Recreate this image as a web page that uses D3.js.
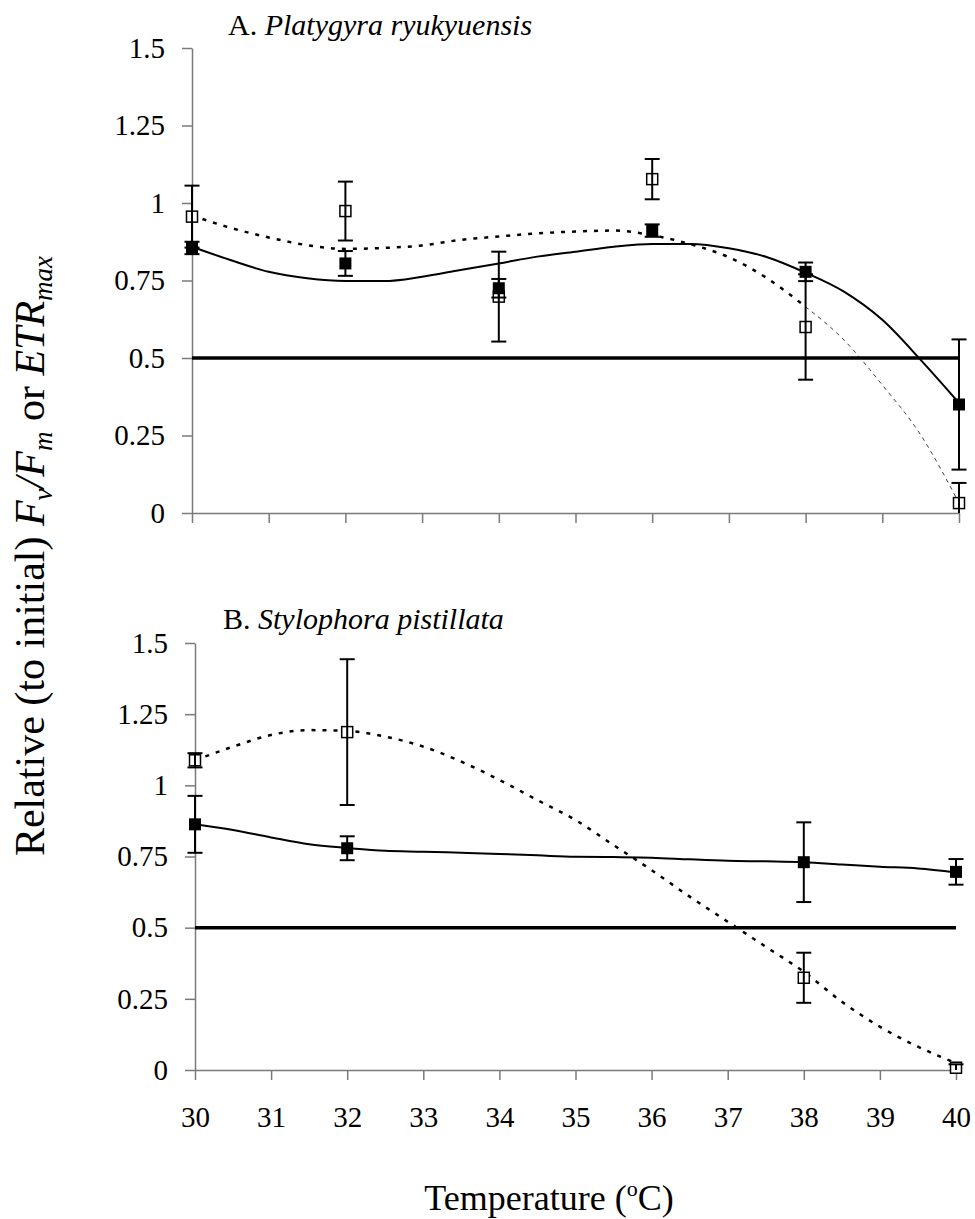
<!DOCTYPE html>
<html>
<head>
<meta charset="utf-8">
<script src="https://cdn.jsdelivr.net/npm/d3@7"></script>
<style>
	body { margin: 0; background: #ffffff; }
	svg { display: block; }
	.axis path, .axis line { stroke: #7a7a7a; stroke-width: 1.5px; }
</style>
</head>
<body>
<svg id="chart" width="975" height="1219"></svg>
<script>
// Panel A - Platygyra ryukyuensis
var tempsA = [30, 32, 34, 36, 38, 40];
var filledA = [0.855, 0.805, 0.725, 0.911, 0.778, 0.35];
var filledAErr = [0.02, 0.04, 0.03, 0.02, 0.03, 0.21];
var openA = [0.956, 0.974, 0.698, 1.077, 0.6, 0.032];
var openAErr = [0.1, 0.095, 0.145, 0.065, 0.17, 0.065];

// Panel B - Stylophora pistillata
var tempsB = [30, 32, 38, 40];
var filledB = [0.863, 0.779, 0.73, 0.696];
var filledBErr = [0.1, 0.042, 0.14, 0.045];
var openB = [1.088, 1.187, 0.324, 0.008];
var openBErr = [0.025, 0.256, 0.088, 0.012];

// trendlines, every half degree
var trendTemps = [30, 30.5, 31, 31.5, 32, 32.5, 33, 33.5, 34, 34.5, 35, 35.5, 36, 36.5, 37, 37.5, 38, 38.5, 39, 39.5, 40];
var solidTrendA = [0.859, 0.816, 0.778, 0.757, 0.748, 0.748, 0.762, 0.784, 0.805, 0.827, 0.843, 0.859, 0.868, 0.868, 0.854, 0.825, 0.775, 0.714, 0.623, 0.494, 0.355];
var dottedTrendA = [0.96, 0.92, 0.889, 0.864, 0.852, 0.855, 0.863, 0.881, 0.892, 0.902, 0.908, 0.911, 0.896, 0.867, 0.825, 0.757, 0.665, 0.558, 0.413, 0.252, 0.032];
var solidTrendB = [0.863, 0.843, 0.817, 0.793, 0.78, 0.77, 0.767, 0.763, 0.759, 0.754, 0.749, 0.748, 0.746, 0.74, 0.735, 0.733, 0.73, 0.722, 0.714, 0.708, 0.694];
var dottedTrendB = [1.088, 1.136, 1.177, 1.194, 1.191, 1.171, 1.136, 1.083, 1.019, 0.948, 0.878, 0.79, 0.702, 0.609, 0.521, 0.433, 0.345, 0.24, 0.152, 0.082, 0.024];

var yTicks = [0, 0.25, 0.5, 0.75, 1, 1.25, 1.5];
var xTicks = [30, 31, 32, 33, 34, 35, 36, 37, 38, 39, 40];
var halfLine = 0.5;

var serif = "'Liberation Serif', 'Times New Roman', serif";
var svg = d3.select("#chart");

var panels = [
	{ temps: tempsA, filled: filledA, filledErr: filledAErr, open: openA, openErr: openAErr,
		solid: solidTrendA, dotted: dottedTrendA, thinFrom: 38, x0: 192, x1: 959, y0: 513, y1: 48,
		letter: "A. ", name: "Platygyra ryukyuensis", titleX: 228, titleY: 35, labels: false },
	{ temps: tempsB, filled: filledB, filledErr: filledBErr, open: openB, openErr: openBErr,
		solid: solidTrendB, dotted: dottedTrendB, thinFrom: null, x0: 195, x1: 956, y0: 1070, y1: 643,
		letter: "B. ", name: "Stylophora pistillata", titleX: 223, titleY: 629, labels: true }
];

panels.forEach(function(p) {
	var x = d3.scaleLinear().domain([30, 40]).range([p.x0, p.x1]);
	var y = d3.scaleLinear().domain([0, 1.5]).range([p.y0, p.y1]);
	var g = svg.append("g");

	// axes
	var yAxisG = g.append("g")
		.attr("class", "axis")
		.attr("transform", "translate(" + p.x0 + ",0)")
		.call(d3.axisLeft(y).tickValues(yTicks).tickFormat(function(d) { return String(d); })
			.tickSize(10).tickSizeOuter(0).tickPadding(17));
	yAxisG.attr("font-family", serif).attr("font-size", 29);
	yAxisG.selectAll("text").attr("fill", "#000");

	var xAxis = d3.axisBottom(x).tickValues(xTicks).tickSize(10).tickSizeOuter(0).tickPadding(26);
	if (!p.labels) xAxis.tickFormat("");
	var xAxisG = g.append("g")
		.attr("class", "axis")
		.attr("transform", "translate(0," + p.y0 + ")")
		.call(xAxis);
	xAxisG.attr("font-family", serif).attr("font-size", 29);
	xAxisG.selectAll("text").attr("fill", "#000");

	// trendlines
	var pts = function(vals) {
		return trendTemps.map(function(t, i) { return [t, vals[i]]; });
	};
	var line = d3.line()
		.x(function(d) { return x(d[0]); })
		.y(function(d) { return y(d[1]); })
		.curve(d3.curveMonotoneX);

	g.append("path")
		.attr("d", line(pts(p.solid)))
		.attr("fill", "none")
		.attr("stroke", "#000")
		.attr("stroke-width", 2);

	var dotted = pts(p.dotted);
	var thick = p.thinFrom ? dotted.filter(function(d) { return d[0] <= p.thinFrom; }) : dotted;
	g.append("path")
		.attr("d", line(thick))
		.attr("fill", "none")
		.attr("stroke", "#000")
		.attr("stroke-width", 2.5)
		.attr("stroke-dasharray", "4,7");

	if (p.thinFrom) {
		g.append("path")
			.attr("d", line(dotted.filter(function(d) { return d[0] >= p.thinFrom; })))
			.attr("fill", "none")
			.attr("stroke", "#444")
			.attr("stroke-width", 1)
			.attr("stroke-dasharray", "4,4");
	}

	// 50% line
	g.append("line")
		.attr("x1", x(30))
		.attr("x2", x(40))
		.attr("y1", y(halfLine))
		.attr("y2", y(halfLine))
		.attr("stroke", "#000")
		.attr("stroke-width", 3.5);

	// markers
	g.selectAll(".open").data(p.temps).enter().append("rect")
		.attr("x", function(d) { return x(d) - 5.5; })
		.attr("y", function(d, i) { return y(p.open[i]) - 5.5; })
		.attr("width", 11)
		.attr("height", 11)
		.attr("fill", "#fff")
		.attr("stroke", "#000")
		.attr("stroke-width", 1.5);

	g.selectAll(".filled").data(p.temps).enter().append("rect")
		.attr("x", function(d) { return x(d) - 6; })
		.attr("y", function(d, i) { return y(p.filled[i]) - 6; })
		.attr("width", 12)
		.attr("height", 12)
		.attr("fill", "#000");

	// error bars (cut at the axis like the original)
	var bars = function(vals, errs) {
		p.temps.forEach(function(t, i) {
			var cx = x(t);
			var top = y(vals[i] + errs[i]);
			var low = vals[i] - errs[i];
			var bot = y(Math.max(low, 0));
			var eb = g.append("g").attr("stroke", "#000").attr("stroke-width", 2);
			eb.append("line").attr("x1", cx).attr("x2", cx).attr("y1", top).attr("y2", bot);
			eb.append("line").attr("x1", cx - 7.5).attr("x2", cx + 7.5).attr("y1", top).attr("y2", top);
			if (low > 0) {
				eb.append("line").attr("x1", cx - 7.5).attr("x2", cx + 7.5).attr("y1", bot).attr("y2", bot);
			}
		});
	};
	bars(p.filled, p.filledErr);
	bars(p.open, p.openErr);

	// panel title
	var title = svg.append("text")
		.attr("x", p.titleX)
		.attr("y", p.titleY)
		.attr("font-family", serif)
		.attr("font-size", "30px");
	title.append("tspan").text(p.letter);
	title.append("tspan").attr("font-style", "italic").text(p.name);
});

// axis titles
var xTitle = svg.append("text")
	.attr("x", 549)
	.attr("y", 1210)
	.attr("text-anchor", "middle")
	.attr("font-family", serif)
	.attr("font-size", "36px");
xTitle.append("tspan").text("Temperature (");
xTitle.append("tspan").attr("font-size", "22px").attr("dy", -14).text("o");
xTitle.append("tspan").attr("dy", 14).text("C)");

var yTitle = svg.append("text")
	.attr("transform", "translate(44,556) rotate(-90)")
	.attr("text-anchor", "middle")
	.attr("font-family", serif)
	.attr("font-size", "42px");
yTitle.append("tspan").text("Relative (to initial) ");
yTitle.append("tspan").attr("font-style", "italic").text("F");
yTitle.append("tspan").attr("font-style", "italic").attr("font-size", "27px").attr("dy", 8).text("v");
yTitle.append("tspan").attr("font-style", "italic").attr("dy", -8).text("/F");
yTitle.append("tspan").attr("font-style", "italic").attr("font-size", "27px").attr("dy", 8).text("m");
yTitle.append("tspan").attr("dy", -8).text(" or ");
yTitle.append("tspan").attr("font-style", "italic").text("ETR");
yTitle.append("tspan").attr("font-style", "italic").attr("font-size", "27px").attr("dy", 8).text("max");
</script>
</body>
</html>
